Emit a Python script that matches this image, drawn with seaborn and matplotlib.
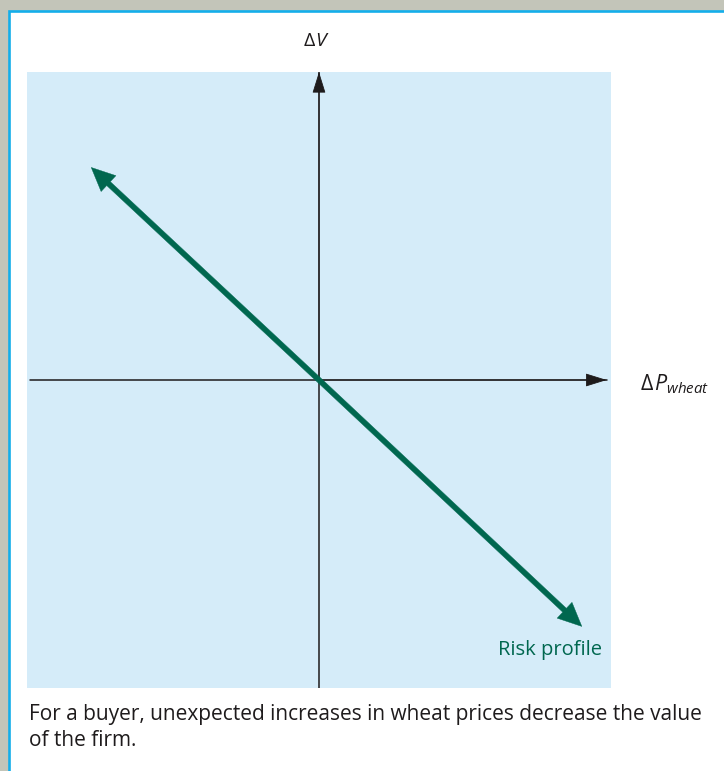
import matplotlib
matplotlib.use("Agg")
import matplotlib.pyplot as plt
from matplotlib.patches import Rectangle
import seaborn as sns

# Risk profile of a wheat buyer: value change vs. wheat price change
delta_p = [-0.78, 0.0, 0.90]
delta_v = [0.69, 0.0, -0.80]

# extents of the two coordinate axes (in data units)
x_axis_span = [-0.99, 0.985]
y_axis_span = [-1.0, 1.0]

x_label = r"$\Delta\hspace{0.1}P_{wheat}$"
y_label = r"$\Delta\hspace{0.1}V$"
profile_label = "Risk profile"
caption = ("For a buyer, unexpected increases in wheat prices decrease the value\n"
           "of the firm.")

sns.set_theme(style="white")
plt.rcParams["font.family"] = ["Open Sans", "DejaVu Sans"]
plt.rcParams["mathtext.fontset"] = "custom"
plt.rcParams["mathtext.rm"] = "Open Sans"
plt.rcParams["mathtext.it"] = "Open Sans:italic"

W, H = 724, 771
fig = plt.figure(figsize=(W / 100, H / 100), dpi=100)
fig.patch.set_facecolor("#c3c5b9")

# white card with blue frame
fig.add_artist(Rectangle((9 / W, -0.1), 1.2, 1.1 - 11 / H,
                         transform=fig.transFigure, facecolor="white",
                         edgecolor="#14aeea", linewidth=1.9, zorder=0))

PANEL = "#d5ecf9"
GREEN = "#00674f"
INK = "#1e1b1c"

left, right, top, bottom = 27, 611, 72, 688
ax = fig.add_axes([left / W, 1 - bottom / H, (right - left) / W, (bottom - top) / H])
ax.set_facecolor(PANEL)
for s in ax.spines.values():
    s.set_visible(False)
ax.set_xlim(-1, 1)
ax.set_ylim(-1, 1)

# coordinate axes
sns.lineplot(x=[0, 0], y=y_axis_span, ax=ax, color=INK, linewidth=1.1,
             sort=False, estimator=None, errorbar=None, zorder=2)
sns.lineplot(x=x_axis_span, y=[0, 0], ax=ax, color=INK, linewidth=1.1,
             sort=False, estimator=None, errorbar=None, zorder=2)
head = dict(arrowstyle="-|>,head_length=1.35,head_width=0.42", color=INK,
            lw=0.6, shrinkA=0, shrinkB=0, mutation_scale=10)
ax.annotate("", xy=(0, y_axis_span[1]), xytext=(0, 0), arrowprops=head, zorder=2)
ax.annotate("", xy=(x_axis_span[1], 0), xytext=(0, 0), arrowprops=head, zorder=2)
ax.set_xticks([])
ax.set_yticks([])
ax.set_xlabel("")
ax.set_ylabel("")

# risk profile: one straight line through the origin, arrowheads at both ends
profile_style = "simple,head_length=0.85,head_width=0.78,tail_width=0.19"
for i in (0, -1):
    ax.annotate("", xy=(delta_p[i], delta_v[i]), xytext=(delta_p[1], delta_v[1]),
                arrowprops=dict(arrowstyle=profile_style, mutation_scale=20,
                                facecolor=GREEN, edgecolor=GREEN, lw=0.3,
                                shrinkA=0, shrinkB=0), zorder=4)

ax.text(0.97, -0.893, profile_label, ha="right", va="baseline",
        color=GREEN, fontsize=14.5)

fig.text(317 / W, 1 - 41 / H, y_label, ha="center", va="center",
         fontsize=14, color=INK)
fig.text(640 / W, 1 - 384 / H, x_label, ha="left", va="center",
         fontsize=15.5, color=INK)

fig.text(29 / W, 1 - 704 / H, caption, ha="left", va="top",
         fontsize=15, color=INK, linespacing=1.3)

fig.savefig("out.png", dpi=100, facecolor=fig.get_facecolor())
